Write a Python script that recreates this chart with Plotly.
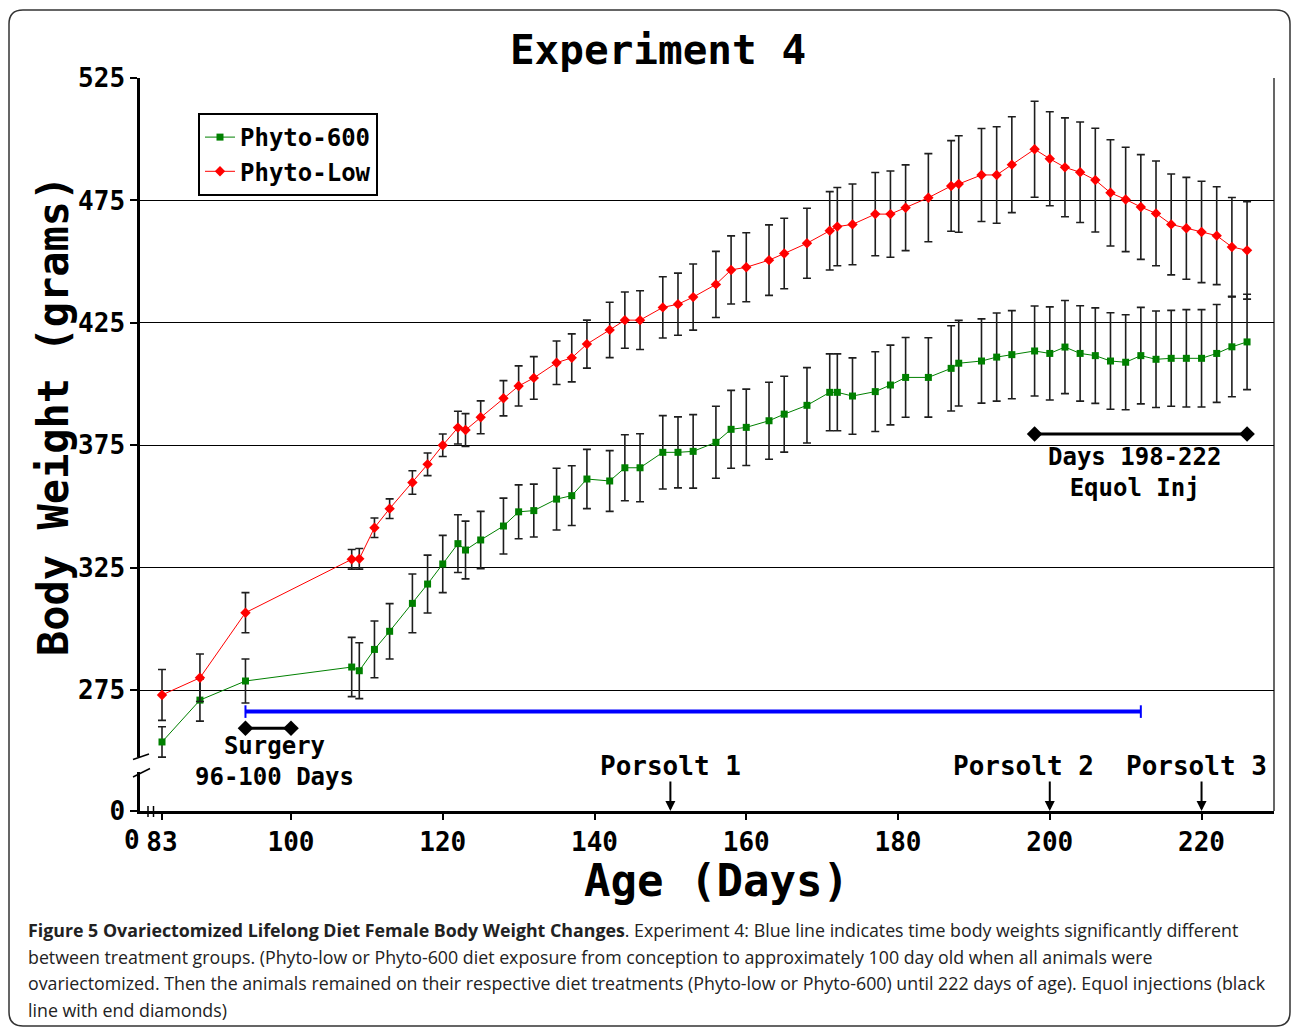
import plotly.graph_objects as go

# ---------------- data ----------------
DAYS = [83, 88, 94, 108, 109, 111, 113, 116, 118, 120, 122, 123, 125, 128, 130,
        132, 135, 137, 139, 142, 144, 146, 149, 151, 153, 156, 158, 160, 163, 165,
        168, 171, 172, 174, 177, 179, 181, 184, 187, 188, 191, 193, 195, 198, 200,
        202, 204, 206, 208, 210, 212, 214, 216, 218, 220, 222, 224, 226]

PHYTO_LOW = [273.0, 280.0, 306.6, 328.4, 328.6, 341.3, 349.1, 359.8, 367.2, 375.0,
             382.2, 381.2, 386.4, 394.2, 399.2, 402.5, 408.7, 410.7, 416.3, 422.1,
             426.1, 426.1, 431.3, 432.6, 435.5, 440.7, 446.6, 447.7, 450.6, 453.3,
             457.5, 462.6, 464.3, 465.2, 469.4, 469.4, 472.0, 476.1, 480.9, 481.7,
             485.4, 485.4, 489.6, 495.9, 492.0, 488.5, 486.5, 483.3, 478.1, 475.4,
             472.3, 469.7, 465.2, 463.6, 462.1, 460.6, 456.0, 454.6]
PHYTO_LOW_ERR = [10.4, 9.7, 8.2, 4.0, 4.2, 4.0, 4.0, 4.8, 4.6, 4.6,
                 6.7, 6.7, 6.7, 7.2, 8.2, 8.7, 8.9, 9.8, 9.8, 11.3,
                 11.5, 12.0, 12.5, 12.7, 13.5, 13.5, 13.9, 14.1, 14.4, 14.4,
                 14.3, 16.0, 16.0, 16.5, 17.0, 17.6, 17.5, 18.0, 18.5, 19.7,
                 19.0, 19.7, 19.6, 19.6, 19.2, 20.2, 20.5, 21.2, 21.7, 21.3,
                 21.4, 21.4, 20.6, 20.8, 20.7, 20.0, 20.2, 19.9]

PHYTO_600 = [253.8, 270.9, 278.7, 284.4, 282.9, 291.6, 299.0, 310.4, 318.3, 326.5,
             334.8, 332.2, 336.3, 342.0, 347.8, 348.3, 353.0, 354.4, 361.2, 360.4,
             365.8, 365.8, 372.1, 372.1, 372.5, 376.2, 381.5, 382.3, 385.0, 387.7,
             391.3, 396.6, 396.6, 395.1, 396.9, 399.6, 402.7, 402.7, 406.4, 408.5,
             409.4, 411.0, 412.0, 413.5, 412.5, 415.1, 412.5, 411.6, 409.4, 408.9,
             411.6, 410.1, 410.5, 410.5, 410.5, 412.5, 415.2, 417.2]
PHYTO_600_ERR = [6.2, 8.6, 9.0, 12.1, 11.4, 11.6, 11.3, 12.0, 11.8, 11.7,
                 11.8, 11.8, 11.7, 11.4, 11.0, 10.8, 12.6, 12.2, 12.1, 12.4,
                 13.5, 13.9, 15.0, 14.5, 15.0, 14.7, 15.9, 15.6, 15.7, 15.5,
                 15.4, 15.7, 15.7, 15.6, 16.3, 16.3, 16.3, 16.2, 17.4, 17.5,
                 17.2, 18.0, 18.0, 18.4, 19.0, 19.0, 19.5, 19.5, 19.7, 19.4,
                 19.7, 19.7, 19.6, 19.9, 19.9, 20.0, 20.4, 19.5]

X_TICKS = [83, 100, 120, 140, 160, 180, 200, 220]
Y_TICKS = [275, 325, 375, 425, 475, 525]
Y_BREAK_VALUE = 225.6          # axis bottom, labelled "0" (broken axis)
X_RANGE = [80.1, 229.55]

SIG_DAYS = [94, 212]           # blue line: significant difference
SIG_LEVEL = 266.2
SURGERY_DAYS = [94, 100]
SURGERY_LEVEL = 259.4
EQUOL_DAYS = [198, 226]
EQUOL_LEVEL = 379.6
PORSOLT_DAYS = [150, 200, 220]
PORSOLT_LABELS = ["Porsolt 1", "Porsolt 2", "Porsolt 3"]
PORSOLT_LABEL_X = [150, 196.5, 219.3]

CAPTION_LINES = [
    "<b>Figure 5 Ovariectomized Lifelong Diet Female Body Weight Changes</b>. Experiment 4: Blue line indicates time body weights significantly different",
    "between treatment groups. (Phyto-low or Phyto-600 diet exposure from conception to approximately 100 day old when all animals were",
    "ovariectomized. Then the animals remained on their respective diet treatments (Phyto-low or Phyto-600) until 222 days of age). Equol injections (black",
    "line with end diamonds)",
]

# ---------------- layout geometry ----------------
FIG_W, FIG_H = 1292, 1029
L, R, T, B = 140, 1274, 78, 811
PW, PH = R - L, B - T


def px(x):
    return (x - L) / PW


def py(y):
    return (B - y) / PH


MONO = "DejaVu Sans Mono"
ERR_COLOR = "#1e1e1e"

fig = go.Figure()

fig.add_trace(go.Scatter(
    x=DAYS, y=PHYTO_600, name="Phyto-600", mode="lines+markers",
    line=dict(color="#008000", width=1),
    marker=dict(symbol="square", size=7, color="#008000"),
    error_y=dict(type="data", array=PHYTO_600_ERR, color=ERR_COLOR, thickness=1.6, width=4),
))
fig.add_trace(go.Scatter(
    x=DAYS, y=PHYTO_LOW, name="Phyto-Low", mode="lines+markers",
    line=dict(color="#ff0000", width=1),
    marker=dict(symbol="diamond", size=8, color="#ff0000"),
    error_y=dict(type="data", array=PHYTO_LOW_ERR, color=ERR_COLOR, thickness=1.6, width=4),
))

# blue significance line
fig.add_trace(go.Scatter(
    x=SIG_DAYS, y=[SIG_LEVEL] * len(SIG_DAYS), mode="lines+markers", showlegend=False,
    line=dict(color="#0000ff", width=4),
    marker=dict(symbol="line-ns", size=9, color="#0000ff", line=dict(color="#0000ff", width=2)),
    hoverinfo="skip",
))
# surgery bar
fig.add_trace(go.Scatter(
    x=SURGERY_DAYS, y=[SURGERY_LEVEL] * len(SURGERY_DAYS), mode="lines+markers", showlegend=False,
    line=dict(color="black", width=3),
    marker=dict(symbol="diamond", size=12, color="black"),
    hoverinfo="skip",
))
# equol bar
fig.add_trace(go.Scatter(
    x=EQUOL_DAYS, y=[EQUOL_LEVEL] * len(EQUOL_DAYS), mode="lines+markers", showlegend=False,
    line=dict(color="black", width=3),
    marker=dict(symbol="diamond", size=12, color="black"),
    hoverinfo="skip",
))

annotations = []
tick_font = dict(family=MONO, size=26, color="black", weight="bold")
note_font = dict(family=MONO, size=24, color="black", weight="bold")

# Porsolt arrows + labels
for d, lab, lx in zip(PORSOLT_DAYS, PORSOLT_LABELS, PORSOLT_LABEL_X):
    annotations.append(dict(x=d, y=Y_BREAK_VALUE, xref="x", yref="y", text="",
                            showarrow=True, ax=0, ay=-31, arrowhead=2, arrowsize=1,
                            arrowwidth=2, arrowcolor="black", standoff=0))
    annotations.append(dict(x=lx, y=244.0, xref="x", yref="y", text=lab,
                            showarrow=False, xanchor="center", yanchor="middle",
                            font=tick_font))

annotations += [
    dict(x=97.8, y=246.0, xref="x", yref="y", text="Surgery<br>96-100 Days", showarrow=False,
         font=note_font, xanchor="center", yanchor="middle", align="center"),
    dict(x=211.2, y=363.9, xref="x", yref="y", text="Days 198-222<br>Equol Inj", showarrow=False,
         font=note_font, xanchor="center", yanchor="middle", align="center"),
    # x-axis "0" label of the broken axis
    dict(x=px(132), y=py(840), xref="paper", yref="paper", text="0", showarrow=False,
         font=tick_font, xanchor="center", yanchor="middle"),
    # axis titles
    dict(x=px(716), y=py(881), xref="paper", yref="paper", text="Age (Days)",
         showarrow=False, font=dict(family=MONO, size=44, color="black", weight="bold"),
         xanchor="center", yanchor="middle"),
    dict(x=px(54), y=py(416), xref="paper", yref="paper", text="Body Weight (grams)",
         showarrow=False, textangle=-90,
         font=dict(family=MONO, size=42, color="black", weight="bold"),
         xanchor="center", yanchor="middle"),
]

cap_y = [930, 957, 983, 1010]
for txt, yy in zip(CAPTION_LINES, cap_y):
    annotations.append(dict(x=px(26), y=py(yy), xref="paper", yref="paper", text=txt,
                            showarrow=False, xanchor="left", yanchor="middle",
                            font=dict(family="Open Sans", size=17.8, color="#222")))

# shapes: right border, axis breaks, outer rounded frame
shapes = [
    dict(type="line", xref="paper", yref="paper", x0=1, x1=1, y0=0, y1=1,
         line=dict(color="black", width=1.2)),
    # y-axis break: gap + slashes
    dict(type="rect", xref="paper", yref="paper", x0=px(136), x1=px(145),
         y0=py(772), y1=py(757), fillcolor="white", line=dict(width=0), layer="above"),
    dict(type="line", xref="paper", yref="paper", x0=px(133), y0=py(759.5), x1=px(149), y1=py(754),
         line=dict(color="black", width=1.5), layer="above"),
    dict(type="line", xref="paper", yref="paper", x0=px(133), y0=py(777), x1=px(150), y1=py(768.5),
         line=dict(color="black", width=1.5), layer="above"),
    # x-axis break marks
    dict(type="line", xref="paper", yref="paper", x0=px(148), x1=px(148), y0=py(806), y1=py(817),
         line=dict(color="black", width=1.5), layer="above"),
    dict(type="line", xref="paper", yref="paper", x0=px(153.5), x1=px(153.5), y0=py(806), y1=py(817),
         line=dict(color="black", width=1.5), layer="above"),
]

# rounded outer frame
fx0, fy0, fx1, fy1, rr = 9, 10, 1290, 1026, 14
path = (f"M {px(fx0 + rr)},{py(fy0)} L {px(fx1 - rr)},{py(fy0)} "
        f"Q {px(fx1)},{py(fy0)} {px(fx1)},{py(fy0 + rr)} "
        f"L {px(fx1)},{py(fy1 - rr)} Q {px(fx1)},{py(fy1)} {px(fx1 - rr)},{py(fy1)} "
        f"L {px(fx0 + rr)},{py(fy1)} Q {px(fx0)},{py(fy1)} {px(fx0)},{py(fy1 - rr)} "
        f"L {px(fx0)},{py(fy0 + rr)} Q {px(fx0)},{py(fy0)} {px(fx0 + rr)},{py(fy0)} Z")
shapes.append(dict(type="path", xref="paper", yref="paper", path=path,
                   line=dict(color="#333333", width=1.5), layer="below"))

fig.update_layout(
    width=FIG_W, height=FIG_H,
    margin=dict(l=L, r=FIG_W - R, t=T, b=FIG_H - B, pad=0, autoexpand=False),
    paper_bgcolor="white", plot_bgcolor="white",
    title=dict(text="Experiment 4", x=658 / FIG_W, xref="container", xanchor="center",
               y=1 - 50 / FIG_H, yref="container", yanchor="middle",
               font=dict(family=MONO, size=41, color="black", weight="bold")),
    xaxis=dict(range=X_RANGE, tickvals=X_TICKS, ticktext=[str(v) for v in X_TICKS],
               showgrid=False, zeroline=False, showline=True, linecolor="black", linewidth=2.5,
               ticks="outside", ticklen=6, tickwidth=2, tickcolor="black",
               tickfont=tick_font, automargin=False),
    yaxis=dict(range=[Y_BREAK_VALUE, 525], tickvals=[Y_BREAK_VALUE] + Y_TICKS,
               ticktext=["0"] + [str(v) for v in Y_TICKS],
               showgrid=True, gridcolor="black", gridwidth=1.2, zeroline=False,
               showline=True, linecolor="black", linewidth=2.5,
               ticks="outside", ticklen=7, tickwidth=2, tickcolor="black",
               tickfont=tick_font, automargin=False),
    legend=dict(x=px(198), y=py(113), xanchor="left", yanchor="top",
                bgcolor="white", bordercolor="black", borderwidth=2,
                font=dict(family=MONO, size=24, color="black", weight="bold"),
                tracegroupgap=0, itemwidth=30),
    showlegend=True,
    annotations=annotations,
    shapes=shapes,
)

fig.write_html("out.html", config={"displayModeBar": False},
               post_script="document.body.style.margin='0px';")
